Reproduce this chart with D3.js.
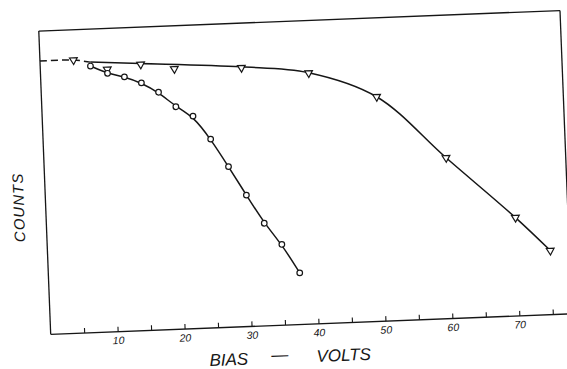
<!DOCTYPE html>
<html>
<head>
<meta charset="utf-8">
<script src="https://cdn.jsdelivr.net/npm/d3@7"></script>
<style>
  body { margin: 0; background: #fff; }
  svg { display: block; }
  text { font-family: "Liberation Sans", Arial, sans-serif; font-style: italic; fill: #161616; }
</style>
</head>
<body>
<div id="chart"></div>
<script>
// bias in volts, counts in arbitrary units (0-100 = full frame height)
var tickValues = [5, 10, 15, 20, 25, 30, 35, 40, 45, 50, 55, 60, 65, 70, 75];
var tickLabels = ["", "10", "", "20", "", "30", "", "40", "", "50", "", "60", "", "70", ""];

var triBias = [5, 10, 15, 20, 30, 40, 50, 60, 70, 75];
var triCounts = [90.0, 86.5, 87.7, 85.8, 85.3, 82.7, 74.0, 53.0, 32.4, 21.1];

var circBias = [7.5, 10, 12.5, 15, 17.5, 20, 22.5, 25, 27.5, 30, 32.5, 35, 37.5];
var circCounts = [87.8, 85.2, 83.8, 81.6, 78.3, 73.3, 70.0, 62.2, 52.9, 43.3, 33.8, 26.6, 17.0];

// hand drawn curves
var triFitBias = [7.5, 15, 30, 40, 50, 60, 70, 75];
var triFitCounts = [89.1, 88.0, 85.6, 82.8, 74.0, 53.0, 32.4, 21.1];
var dashBias = [0, 5, 7.5];
var dashCounts = [90.1, 90.0, 89.1];

function draw() {
  var width = 567, height = 369;
  var W = 521.6, H = 303.5;
  var ox = 50.7, oy = 334.3, tilt = -2.25;

  var svg = d3.select("#chart").append("svg")
    .attr("width", width)
    .attr("height", height);

  // the scanned sheet is slightly tilted
  var g = svg.append("g")
    .attr("transform", "rotate(" + tilt + "," + ox + "," + oy + ") translate(" + ox + "," + (oy - H) + ")");

  var x = d3.scaleLinear().domain([0, 77.85]).range([0, W]);
  var y = d3.scaleLinear().domain([0, 100]).range([H, 0]);

  var ink = "#161616";

  // frame
  var frame = [
    [[0, 0], [W, 0]],
    [[0, 0], [0, H]],
    [[0, H], [W, H]],
    [[W, 0], [W, H - 104]]
  ];
  g.selectAll("line.frame")
    .data(frame)
    .enter().append("line")
    .attr("class", "frame")
    .attr("x1", function (d) { return d[0][0]; })
    .attr("y1", function (d) { return d[0][1]; })
    .attr("x2", function (d) { return d[1][0]; })
    .attr("y2", function (d) { return d[1][1]; })
    .attr("stroke", ink)
    .attr("stroke-width", 1.3);

  var xAxis = d3.axisBottom(x)
    .tickValues(tickValues)
    .tickSize(-5)
    .tickPadding(5)
    .tickFormat(function (d, i) { return tickLabels[i]; });

  var ax = g.append("g")
    .attr("transform", "translate(0," + H + ")")
    .call(xAxis);
  ax.select(".domain").remove();
  ax.selectAll("line").attr("stroke", ink).attr("stroke-width", 1.1);
  ax.selectAll("text")
    .attr("font-size", 10.5)
    .attr("font-family", null)
    .attr("fill", ink);

  var line = d3.line()
    .x(function (d) { return x(d[0]); })
    .y(function (d) { return y(d[1]); })
    .curve(d3.curveCatmullRom.alpha(0.5));

  g.append("path")
    .datum(dashBias.map(function (b, i) { return [b, dashCounts[i]]; }))
    .attr("d", line)
    .attr("fill", "none")
    .attr("stroke", ink)
    .attr("stroke-width", 1.5)
    .attr("stroke-dasharray", "7,4");

  g.append("path")
    .datum(triFitBias.map(function (b, i) { return [b, triFitCounts[i]]; }))
    .attr("d", line)
    .attr("fill", "none")
    .attr("stroke", ink)
    .attr("stroke-width", 1.5);

  // smoothed curve through the circles
  g.append("path")
    .datum(circBias.map(function (b, i) { return [b, circCounts[i]]; }))
    .attr("d", line.curve(d3.curveBasis))
    .attr("fill", "none")
    .attr("stroke", ink)
    .attr("stroke-width", 1.5);

  var tri = d3.symbol().type(d3.symbolTriangle).size(26);
  g.selectAll("path.tri")
    .data(triBias.map(function (b, i) { return [b, triCounts[i]]; }))
    .enter().append("path")
    .attr("class", "tri")
    .attr("d", tri)
    .attr("transform", function (d) { return "translate(" + x(d[0]) + "," + y(d[1]) + ") rotate(180)"; })
    .attr("fill", "#fff")
    .attr("stroke", ink)
    .attr("stroke-width", 1.2);

  g.selectAll("circle.pt")
    .data(circBias.map(function (b, i) { return [b, circCounts[i]]; }))
    .enter().append("circle")
    .attr("class", "pt")
    .attr("cx", function (d) { return x(d[0]); })
    .attr("cy", function (d) { return y(d[1]); })
    .attr("r", 2.8)
    .attr("fill", "#fff")
    .attr("stroke", ink)
    .attr("stroke-width", 1.2);

  // axis titles
  var xt = g.append("g").attr("transform", "translate(0," + (H + 38) + ")");
  xt.append("text").attr("x", 177).attr("text-anchor", "middle").attr("font-size", 17).text("BIAS");
  xt.append("text").attr("x", 228).attr("y", -3).attr("text-anchor", "middle").attr("font-size", 17).text("—");
  xt.append("text").attr("x", 292).attr("text-anchor", "middle").attr("font-size", 17).text("VOLTS");

  g.append("text")
    .attr("transform", "translate(-27," + (H - 128) + ") rotate(-90)")
    .attr("text-anchor", "middle")
    .attr("dy", "0.35em")
    .attr("font-size", 15)
    .attr("letter-spacing", 1)
    .text("COUNTS");
}

draw();
</script>
</body>
</html>
